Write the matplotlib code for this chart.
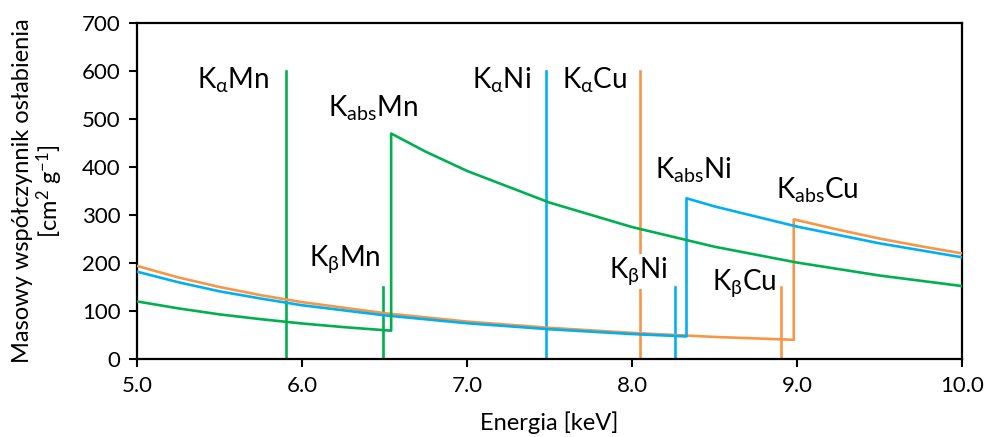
import matplotlib
matplotlib.use("Agg")
import matplotlib.pyplot as plt

plt.rcParams['font.family'] = ['Lato', 'DejaVu Sans']
plt.rcParams['mathtext.fontset'] = 'custom'
plt.rcParams['mathtext.rm'] = 'Lato'
plt.rcParams['mathtext.it'] = 'Lato'

# Mass attenuation curves
mn_energy = [5.0, 5.25, 5.5, 5.75, 6.0, 6.25, 6.5, 6.54, 6.54, 6.75, 7.0, 7.5, 8.0, 8.5, 9.0, 9.5, 10.0]
mn_mu = [120, 105.5, 93, 83, 74, 66.5, 60, 59, 470, 432, 392, 326, 275, 234, 201, 174, 152]

ni_energy = [5.0, 5.25, 5.5, 5.75, 6.0, 6.5, 7.0, 7.5, 8.0, 8.33, 8.33, 8.5, 9.0, 9.5, 10.0]
ni_mu = [182, 160, 141, 126, 112, 91, 74.5, 62, 52, 47, 335, 318, 276, 241, 212]

cu_energy = [5.0, 5.25, 5.5, 5.75, 6.0, 6.5, 7.0, 7.5, 8.0, 8.5, 8.98, 8.98, 9.25, 9.5, 9.75, 10.0]
cu_mu = [194, 170, 150, 133, 118.5, 95.5, 78, 65, 54.5, 46, 40, 291, 269.5, 251, 235, 220]

# Emission lines: (energy, top value)
line_energy = [5.9, 6.49, 7.48, 8.26, 8.05, 8.9]
line_top = [600, 150, 600, 150, 600, 150]
line_elem = ['Mn', 'Mn', 'Ni', 'Ni', 'Cu', 'Cu']

x_ticks = [5.0, 6.0, 7.0, 8.0, 9.0, 10.0]
x_tick_labels = ['5.0', '6.0', '7.0', '8.0', '9.0', '10.0']
y_ticks = [0, 100, 200, 300, 400, 500, 600, 700]

colors = {'Mn': '#00B050', 'Ni': '#00B0F0', 'Cu': '#F79646'}

fig = plt.figure(figsize=(9.86, 4.37), dpi=100)
ax = fig.add_axes([0.139, 0.1785, 0.8367, 0.7685])

lw = 1.9
for e, top, el in zip(line_energy, line_top, line_elem):
    ax.plot([e, e], [0, top], color=colors[el], lw=lw, zorder=2)

ax.plot(cu_energy, cu_mu, color=colors['Cu'], lw=lw, zorder=3)
ax.plot(ni_energy, ni_mu, color=colors['Ni'], lw=lw, zorder=3)
ax.plot(mn_energy, mn_mu, color=colors['Mn'], lw=lw, zorder=3)

fs = 20
labels = [
    (5.58, 580, r'K$_{\alpha}$Mn', None),
    (6.43, 522, r'K$_{\mathrm{abs}}$Mn', None),
    (7.21, 580, r'K$_{\alpha}$Ni', None),
    (7.77, 580, r'K$_{\alpha}$Cu', None),
    (6.26, 208, r'K$_{\beta}$Mn', None),
    (8.04, 183, r'K$_{\beta}$Ni', 'white'),
    (8.68, 158, r'K$_{\beta}$Cu', None),
    (8.37, 394, r'K$_{\mathrm{abs}}$Ni', None),
    (9.12, 352, r'K$_{\mathrm{abs}}$Cu', None),
]
for x, y, t, bg in labels:
    kw = {}
    if bg:
        kw['bbox'] = dict(facecolor='white', edgecolor='none', pad=1)
    ax.text(x, y, t, fontsize=fs, ha='center', va='center', color='black', zorder=5, **kw)

ax.set_xlim(5.0, 10.0)
ax.set_ylim(0, 700)
ax.set_xticks(x_ticks)
ax.set_xticklabels(x_tick_labels)
ax.set_yticks(y_ticks)
ax.tick_params(axis='both', direction='out', length=6, width=1.5, labelsize=16, pad=6)
for s in ax.spines.values():
    s.set_linewidth(1.6)

ax.set_xlabel('Energia [keV]', fontsize=17, labelpad=11)
ax.set_ylabel('Masowy współczynnik osłabienia\n[cm$^{2}$ g$^{-1}$]', fontsize=17, labelpad=12, linespacing=1.05)

fig.savefig('out.png', dpi=100)
